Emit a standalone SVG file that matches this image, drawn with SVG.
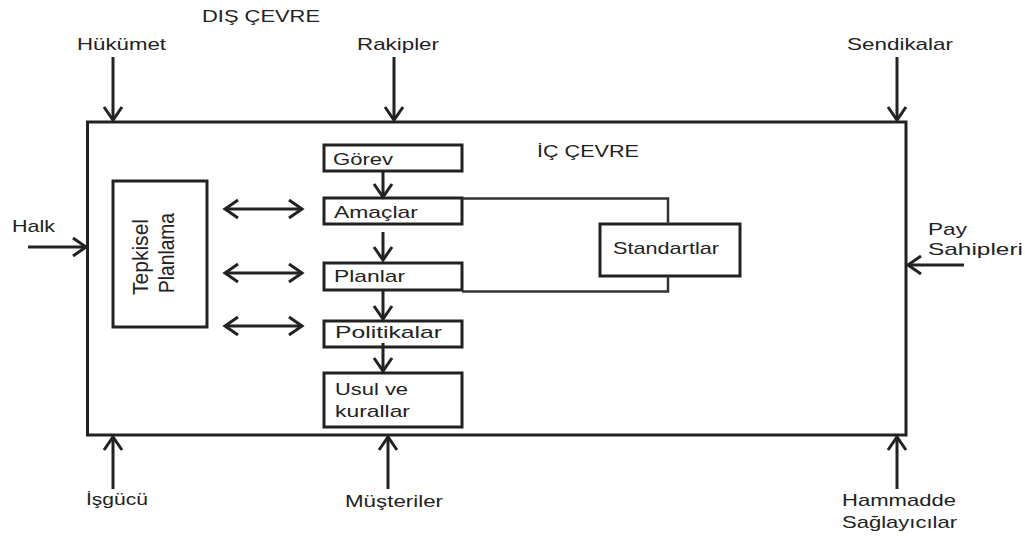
<svg xmlns="http://www.w3.org/2000/svg" width="1025" height="536" viewBox="0 0 1025 536">
  <style>
    .box { fill: #fff; stroke: #222; stroke-width: 3; }
    .lbl { font-family: "Liberation Sans", Arial, sans-serif; font-size: 17px; fill: #222; }
    .arr { stroke: #222; stroke-width: 3; fill: none; marker-end: url(#head); }
    .dbl { stroke: #222; stroke-width: 3; fill: none; marker-start: url(#head); marker-end: url(#head); }
    .link { stroke: #333; stroke-width: 2.5; fill: none; }
  </style>
  <defs>
    <marker id="head" markerUnits="userSpaceOnUse" viewBox="-16 -12 20 24" markerWidth="20" markerHeight="24" refX="0" refY="0" orient="auto-start-reverse">
      <path d="M-13,-9 L0,0 L-13,9" fill="none" stroke="#222" stroke-width="3"/>
    </marker>
  </defs>

  <rect width="1025" height="536" fill="#fff"/>

  <!-- environment (outer frame) -->
  <g id="ic-cevre">
    <rect class="box" x="87.5" y="122" width="818.5" height="313" fill="none"/>
    <text class="lbl" x="537" y="157" textLength="102" lengthAdjust="spacingAndGlyphs">İÇ ÇEVRE</text>
  </g>

  <g id="dis-cevre">
    <text class="lbl" x="202" y="21.5" textLength="118" lengthAdjust="spacingAndGlyphs">DIŞ ÇEVRE</text>
  </g>

  <!-- external actors -->
  <g id="hukumet"><text class="lbl" x="77" y="50" textLength="89" lengthAdjust="spacingAndGlyphs">Hükümet</text></g>
  <g id="rakipler"><text class="lbl" x="357" y="50" textLength="82" lengthAdjust="spacingAndGlyphs">Rakipler</text></g>
  <g id="sendikalar"><text class="lbl" x="847" y="50" textLength="106" lengthAdjust="spacingAndGlyphs">Sendikalar</text></g>
  <g id="halk"><text class="lbl" x="12" y="232" textLength="43" lengthAdjust="spacingAndGlyphs">Halk</text></g>
  <g id="pay-sahipleri">
    <text class="lbl" x="928" y="235" textLength="39" lengthAdjust="spacingAndGlyphs">Pay</text>
    <text class="lbl" x="928" y="255" textLength="95" lengthAdjust="spacingAndGlyphs">Sahipleri</text>
  </g>
  <g id="isgucu"><text class="lbl" x="86" y="505" textLength="62" lengthAdjust="spacingAndGlyphs">İşgücü</text></g>
  <g id="musteriler"><text class="lbl" x="345" y="507" textLength="98" lengthAdjust="spacingAndGlyphs">Müşteriler</text></g>
  <g id="hammadde">
    <text class="lbl" x="842" y="506" textLength="114" lengthAdjust="spacingAndGlyphs">Hammadde</text>
    <text class="lbl" x="842" y="528" textLength="115" lengthAdjust="spacingAndGlyphs">Sağlayıcılar</text>
  </g>

  <!-- reactive planning -->
  <g id="tepkisel-planlama">
    <rect class="box" x="113" y="181" width="94" height="146"/>
    <text class="lbl" text-anchor="middle" font-size="16" transform="translate(147.5,257) scale(1.25,1) rotate(-90)" textLength="76" lengthAdjust="spacingAndGlyphs">Tepkisel</text>
    <text class="lbl" text-anchor="middle" font-size="16" transform="translate(174,253) scale(1.25,1) rotate(-90)" textLength="80" lengthAdjust="spacingAndGlyphs">Planlama</text>
  </g>

  <!-- planning hierarchy -->
  <g id="gorev">
    <rect class="box" x="324" y="145" width="138" height="26"/>
    <text class="lbl" x="333" y="165" textLength="60" lengthAdjust="spacingAndGlyphs">Görev</text>
  </g>
  <g id="amaclar">
    <rect class="box" x="324" y="198" width="138" height="26"/>
    <text class="lbl" x="334" y="218" textLength="84" lengthAdjust="spacingAndGlyphs">Amaçlar</text>
  </g>
  <g id="planlar">
    <rect class="box" x="324" y="263" width="138" height="27"/>
    <text class="lbl" x="334" y="282" textLength="71" lengthAdjust="spacingAndGlyphs">Planlar</text>
  </g>
  <g id="politikalar">
    <rect class="box" x="324" y="321" width="138" height="26"/>
    <text class="lbl" x="335" y="338" textLength="107" lengthAdjust="spacingAndGlyphs">Politikalar</text>
  </g>
  <g id="usul-ve-kurallar">
    <rect class="box" x="324" y="373" width="138" height="54"/>
    <text class="lbl" x="335" y="395" textLength="73" lengthAdjust="spacingAndGlyphs">Usul ve</text>
    <text class="lbl" x="335" y="417" textLength="75" lengthAdjust="spacingAndGlyphs">kurallar</text>
  </g>
  <g id="standartlar">
    <rect class="box" x="600" y="224" width="140" height="52"/>
    <text class="lbl" x="613" y="254" textLength="106" lengthAdjust="spacingAndGlyphs">Standartlar</text>
  </g>

  <!-- connectors -->
  <g id="connectors">
    <!-- external influences -->
    <line class="arr" x1="113" y1="57" x2="113" y2="120"/>
    <line class="arr" x1="394" y1="57" x2="394" y2="120"/>
    <line class="arr" x1="897" y1="57" x2="897" y2="120"/>
    <line class="arr" x1="28" y1="247" x2="86" y2="247"/>
    <line class="arr" x1="964" y1="265" x2="908" y2="265"/>
    <line class="arr" x1="113" y1="489" x2="113" y2="437"/>
    <line class="arr" x1="388" y1="489" x2="388" y2="437"/>
    <line class="arr" x1="897" y1="489" x2="897" y2="437"/>

    <!-- hierarchy flow -->
    <line class="arr" x1="383" y1="171" x2="383" y2="197"/>
    <line class="arr" x1="383" y1="232" x2="383" y2="260"/>
    <line class="arr" x1="383" y1="290" x2="383" y2="319"/>
    <line class="arr" x1="383" y1="343" x2="383" y2="371"/>

    <!-- reactive planning interplay -->
    <line class="dbl" x1="225" y1="209" x2="302" y2="209"/>
    <line class="dbl" x1="225" y1="273" x2="302" y2="273"/>
    <line class="dbl" x1="225" y1="326" x2="302" y2="326"/>

    <!-- standards bracket -->
    <polyline class="link" points="462,198.5 668,198.5 668,224"/>
    <polyline class="link" points="462,291.5 668,291.5 668,276"/>
  </g>
</svg>
